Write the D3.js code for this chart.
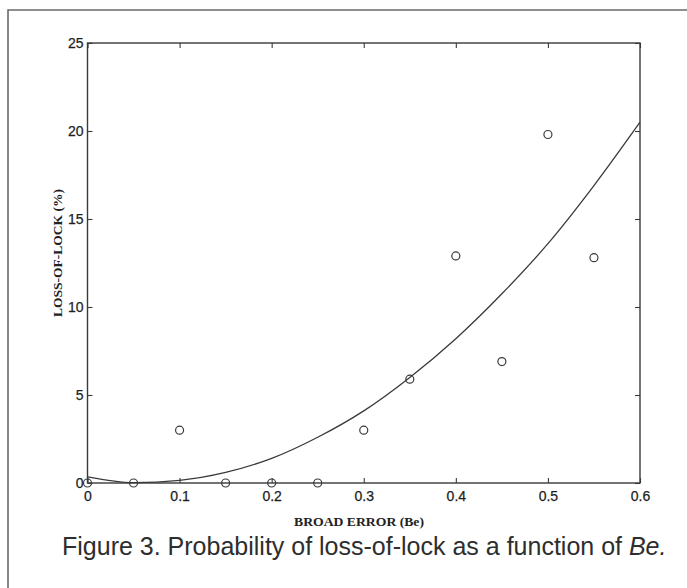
<!DOCTYPE html>
<html><head><meta charset="utf-8">
<script src="https://cdn.jsdelivr.net/npm/d3@7/dist/d3.min.js"></script>
<style>body{margin:0;background:#fff}svg{display:block}</style></head>
<body><svg id="c" width="687" height="588"></svg>
<script>
// Observed data (circles)
const beObs  = [0, 0.05, 0.1, 0.15, 0.2, 0.25, 0.3, 0.35, 0.4, 0.45, 0.5, 0.55];
const lolObs = [0, 0, 3, 0, 0, 0, 3, 5.9, 12.9, 6.9, 19.8, 12.8];
// Fitted curve
const beFit  = [0, 0.05, 0.1, 0.15, 0.2, 0.25, 0.3, 0.35, 0.4, 0.45, 0.5, 0.55, 0.6];
const lolFit = [0.35, 0.02, 0.15, 0.6, 1.4, 2.6, 4.1, 6.0, 8.2, 10.75, 13.6, 16.9, 20.5];
// Ticks
const xTicks = [0, 0.1, 0.2, 0.3, 0.4, 0.5, 0.6];
const xTickLabels = ["0", "0.1", "0.2", "0.3", "0.4", "0.5", "0.6"];
const yTicks = [0, 5, 10, 15, 20, 25];
const yTickLabels = ["0", "5", "10", "15", "20", "25"];
const xTitle = "BROAD ERROR (Be)";
const yTitle = "LOSS-OF-LOCK (%)";
const caption = "Figure 3. Probability of loss-of-lock as a function of ";
const captionItalic = "Be.";

const svg = d3.select("#c");
const L = 87.5, R = 640, T = 43, B = 483;
const x = d3.scaleLinear().domain([0, 0.6]).range([L, R]);
const y = d3.scaleLinear().domain([0, 25]).range([B, T]);
const ink = "#3a3a3a";

svg.append("rect").attr("width", 687).attr("height", 588).attr("fill", "#fff");
// outer frame (partial box)
svg.append("path").attr("d", "M8,588 L8,10 L687,10")
  .attr("fill", "none").attr("stroke", "#6a6a6a").attr("stroke-width", 1.6);

// plot box
svg.append("rect").attr("x", L).attr("y", T).attr("width", R - L).attr("height", B - T)
  .attr("fill", "none").attr("stroke", ink).attr("stroke-width", 1.4);

const tickLen = 5;
function styleAxis(g) {
  g.select(".domain").remove();
  g.selectAll(".tick line").attr("stroke", ink).attr("stroke-width", 1.1);
  g.selectAll(".tick text").attr("fill", "#1e1e1e")
    .style("font-family", "Liberation Sans, Arial, sans-serif").style("font-size", "14px")
    .attr("stroke", "#1e1e1e").attr("stroke-width", 0.25);
}
// bottom
svg.append("g").attr("transform", `translate(0,${B})`)
  .call(d3.axisBottom(x).tickValues(xTicks).tickFormat((d, i) => xTickLabels[i]).tickSize(-tickLen).tickPadding(8))
  .call(styleAxis);
// top
svg.append("g").attr("transform", `translate(0,${T})`)
  .call(d3.axisTop(x).tickValues(xTicks).tickFormat("").tickSize(-tickLen))
  .call(styleAxis);
// left
svg.append("g").attr("transform", `translate(${L},0)`)
  .call(d3.axisLeft(y).tickValues(yTicks).tickFormat((d, i) => yTickLabels[i]).tickSize(-tickLen).tickPadding(4))
  .call(styleAxis);
// right
svg.append("g").attr("transform", `translate(${R},0)`)
  .call(d3.axisRight(y).tickValues(yTicks).tickFormat("").tickSize(-tickLen))
  .call(styleAxis);

// fitted curve
const fit = beFit.map((b, i) => [b, lolFit[i]]);
svg.append("path").datum(fit)
  .attr("d", d3.line().x(d => x(d[0])).y(d => y(d[1])).curve(d3.curveMonotoneX))
  .attr("fill", "none").attr("stroke", ink).attr("stroke-width", 1.3);

// observed circles
svg.append("g").selectAll("circle").data(beObs.map((b, i) => [b, lolObs[i]]))
  .join("circle").attr("cx", d => x(d[0])).attr("cy", d => y(d[1])).attr("r", 4)
  .attr("fill", "none").attr("stroke", ink).attr("stroke-width", 1.2);

// axis titles
svg.append("text").attr("x", 359).attr("y", 526).attr("text-anchor", "middle")
  .style("font-family", "Liberation Serif, Times New Roman, serif").style("font-weight", "bold")
  .style("font-size", "13px").attr("fill", "#222")
  .attr("textLength", 130).attr("lengthAdjust", "spacingAndGlyphs").text(xTitle);
svg.append("text").attr("transform", "translate(62,253) rotate(-90)").attr("text-anchor", "middle")
  .style("font-family", "Liberation Serif, Times New Roman, serif").style("font-weight", "bold")
  .style("font-size", "13px").attr("fill", "#222")
  .attr("textLength", 128).attr("lengthAdjust", "spacingAndGlyphs").text(yTitle);

// caption
const cap = svg.append("text").attr("x", 62).attr("y", 555)
  .style("font-family", "Liberation Sans Narrow, Arial Narrow, Liberation Sans, sans-serif")
  .style("font-size", "25px").attr("fill", "#2e2e2e");
cap.append("tspan").text(caption);
cap.append("tspan").style("font-style", "italic").text(captionItalic);
const w = cap.node().getComputedTextLength();
if (Math.abs(w - 603) > 4) { cap.attr("textLength", 603).attr("lengthAdjust", "spacingAndGlyphs"); }
</script></body></html>
